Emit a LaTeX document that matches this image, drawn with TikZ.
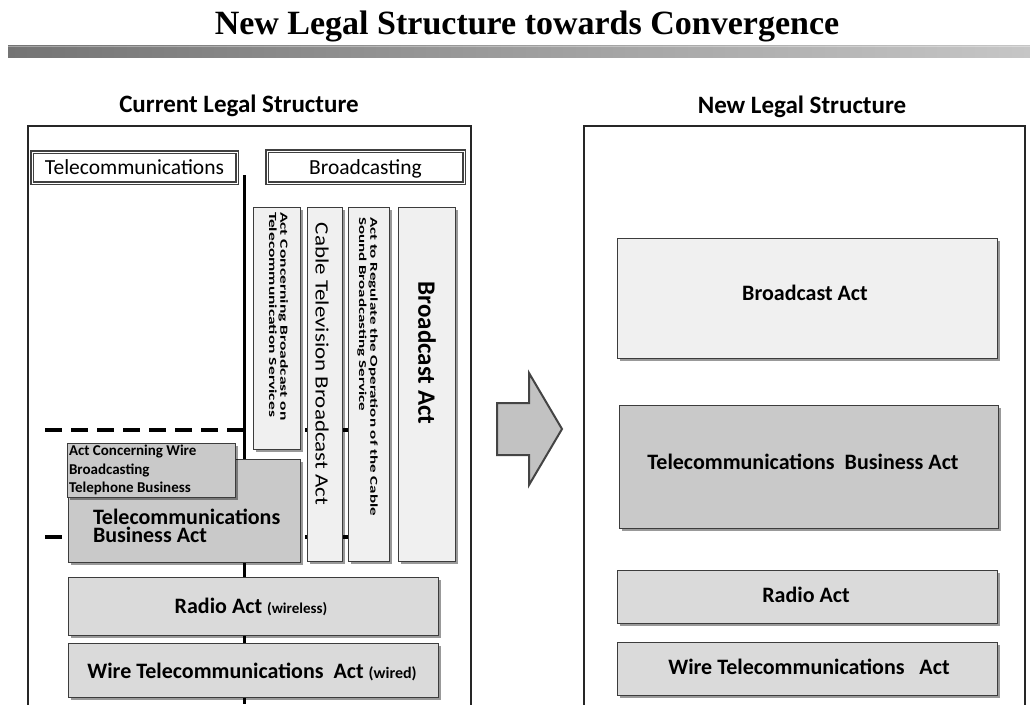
\documentclass[tikz,border=0pt]{standalone}
\usepackage{fontspec}
\setmainfont{Liberation Serif}
\newfontfamily\calfont{Carlito}
\usetikzlibrary{shadows}
\definecolor{bordergray}{HTML}{3C3C3C}
\definecolor{fillLight}{HTML}{F0F0F0}
\definecolor{fillMid}{HTML}{C9C9C9}
\definecolor{fillBase}{HTML}{DADADA}
\definecolor{arrowfill}{HTML}{C2C2C2}
\definecolor{arrowline}{HTML}{444444}
\definecolor{barleft}{HTML}{747474}
\definecolor{barright}{HTML}{C6C6C6}
\tikzset{
  sz/.style 2 args={minimum width=#1pt, minimum height=#2pt},
  actbox/.style={draw=bordergray, line width=1pt, inner sep=0pt, outer sep=0pt, anchor=north west,
    drop shadow={shadow xshift=2.5pt, shadow yshift=-2.5pt, fill=black, opacity=0.4}},
  lightbox/.style={actbox, fill=fillLight},
  midbox/.style={actbox, fill=fillMid},
  basebox/.style={actbox, fill=fillBase},
  labelbox/.style={draw=gray!50!black, line width=1.3pt, double=white, double distance=0.9pt,
    fill=white, anchor=north west, inner sep=0pt, outer sep=0pt},
  frame/.style={draw=black!85, line width=1.6pt, fill=white, anchor=north west, inner sep=0pt, outer sep=0pt},
  txt/.style={inner sep=0pt, outer sep=0pt, font=\calfont\bfseries},
  rtxt/.style={inner sep=0pt, outer sep=0pt, font=\calfont},
  dashline/.style={line width=3.5pt, dash pattern=on 17pt off 9pt},
}
\begin{document}
\begin{tikzpicture}[x=1pt,y=-1pt]
\clip (0,0) rectangle (1030,704);
\fill[white] (0,0) rectangle (1030,704);

% title and bar
\node[inner sep=0pt, font=\bfseries\fontsize{34}{34}\selectfont, anchor=base] (title) at (527,34) {New Legal Structure towards Convergence};
\shade[left color=barleft, right color=barright] (8,45) rectangle (1030,57);
\draw[white, opacity=0.35, line width=1.2pt] (8,46.5) -- (1030,46.5);

% headings
\node[txt, font=\calfont\bfseries\fontsize{25}{25}\selectfont, anchor=base] (hcur) at (239,112) {Current Legal Structure};
\node[txt, font=\calfont\bfseries\fontsize{25}{25}\selectfont, anchor=base] (hnew) at (802,113) {New Legal Structure};

% outer frames
\node[frame, sz={443}{600}] (leftframe) at (28,126) {};
\node[frame, sz={441}{600}] (rightframe) at (584,126) {};

% category labels
\node[labelbox, sz={205}{31}] (tclab) at (32,152) {};
\node[rtxt, font=\calfont\fontsize{21.5}{21.5}\selectfont, anchor=base] (tctxt) at (134.5,174) {Telecommunications};
\node[labelbox, sz={197}{32}] (bclab) at (267,151) {};
\node[rtxt, font=\calfont\fontsize{21.5}{21.5}\selectfont, anchor=base] (bctxt) at (365.5,174) {Broadcasting};

% separators
\coordinate (vtop) at (244,175);
\coordinate (vbot) at (244,704);
\draw[line width=3pt, black] (vtop) -- (vbot);
\coordinate (d1a) at (45,430);
\coordinate (d1b) at (349,430);
\coordinate (d2a) at (45,537);
\coordinate (d2b) at (349,537);
\draw[dashline] (d1a) -- (d1b);
\draw[dashline] (d2a) -- (d2b);

% vertical broadcasting acts
\node[lightbox, sz={47}{242}] (acbts) at (253,207) {};
\node[lightbox, sz={35}{354}] (catv) at (307,207) {};
\node[lightbox, sz={41}{354}] (atr) at (348,207) {};
\node[lightbox, sz={57}{354}] (bcal) at (398,207) {};

\node[txt, rotate=-90, anchor=west] (acbtstxt) at (277,212)
  {\scalebox{1}[0.62]{\fontsize{17.5}{18}\selectfont\begin{tabular}{@{}l@{}}Act Concerning Broadcast on\\Telecommunication Services\end{tabular}}};
\node[rtxt, rotate=-90] (catvtxt) at (322,364)
  {\scalebox{1}[0.82]{\fontsize{23}{23}\selectfont Cable Television Broadcast Act}};
\node[txt, rotate=-90, anchor=west] (atrtxt) at (367,217)
  {\scalebox{1}[0.62]{\fontsize{17}{18}\selectfont\begin{tabular}{@{}l@{}}Act to Regulate the Operation of the Cable\\Sound Broadcasting Service\end{tabular}}};
\node[txt, rotate=-90] (bcaltxt) at (427,353)
  {\fontsize{25}{25}\selectfont Broadcast Act};

% telecommunications acts (left)
\node[midbox, sz={232}{103}] (tbal) at (68,459) {};
\node[txt, align=left, anchor=west, font=\calfont\bfseries\fontsize{22}{18}\selectfont] (tbaltxt) at (93,526)
  {Telecommunications\\Business Act};
\node[midbox, sz={168}{54}] (acw) at (67,443) {};
\node[txt, align=left, anchor=west, font=\calfont\bfseries\fontsize{15}{18.5}\selectfont] (acwtxt) at (69,470)
  {Act Concerning Wire\\Broadcasting\\Telephone Business};

\node[basebox, sz={370}{58}] (radiol) at (68,577) {};
\node[txt, anchor=base] (radioltxt) at (251,613)
  {\fontsize{22}{22}\selectfont Radio Act \fontsize{15}{15}\selectfont(wireless)};
\node[basebox, sz={370}{54}] (wirel) at (68,643) {};
\node[txt, anchor=base] (wireltxt) at (252,678)
  {\fontsize{22}{22}\selectfont Wire Telecommunications\ \ Act \fontsize{16}{16}\selectfont(wired)};

% arrow
\draw[fill=arrowfill, draw=arrowline, line width=2pt, line join=miter]
  (497,403) -- (529,403) -- (529,373) -- (562,429) -- (529,485) -- (529,455) -- (497,455) -- cycle;

% new structure
\node[lightbox, sz={380}{120}] (bcar) at (617,238) {};
\node[txt, anchor=base, font=\calfont\bfseries\fontsize{22}{22}\selectfont] (bcartxt) at (805,300) {Broadcast\ Act};
\node[midbox, sz={379}{123}] (tbar) at (619,405) {};
\node[txt, anchor=base, font=\calfont\bfseries\fontsize{22}{22}\selectfont] (tbartxt) at (803,469) {Telecommunications\ \ Business Act};
\node[basebox, sz={380}{53}] (radior) at (617,570) {};
\node[txt, anchor=base, font=\calfont\bfseries\fontsize{22}{22}\selectfont] (radiortxt) at (806,602) {Radio\ Act};
\node[basebox, sz={380}{53}] (wirer) at (617,642) {};
\node[txt, anchor=base, font=\calfont\bfseries\fontsize{22}{22}\selectfont] (wirertxt) at (809,674) {Wire Telecommunications\ \ \ Act};
\end{tikzpicture}
\end{document}
